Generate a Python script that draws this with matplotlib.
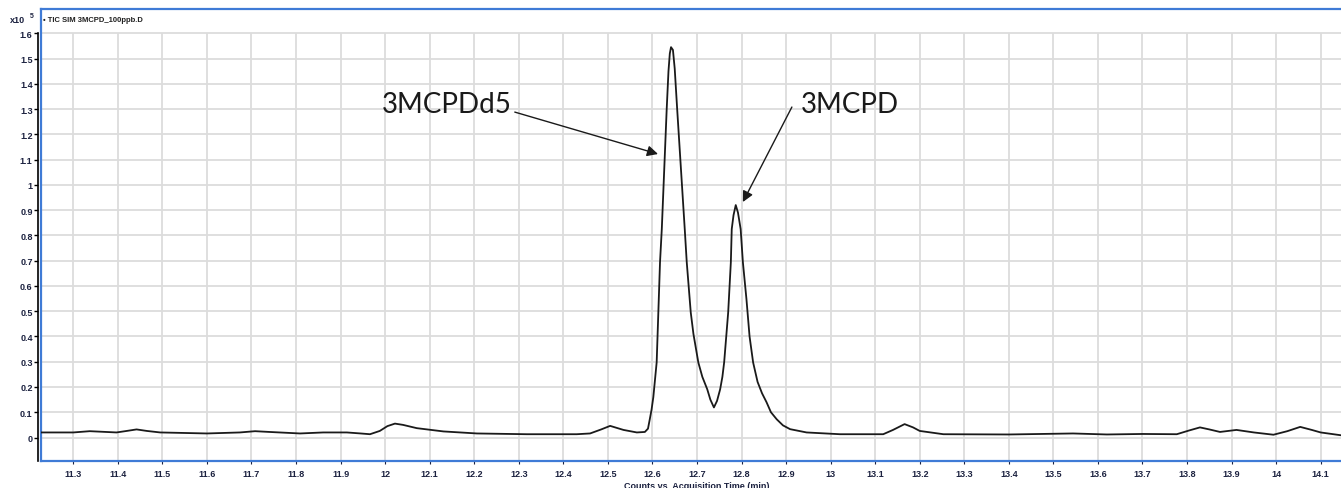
import numpy as np
import matplotlib
matplotlib.use("Agg")
import matplotlib.pyplot as plt
from matplotlib.lines import Line2D

# chromatogram (time in min, counts in x10^5)
time = [11.227, 11.30, 11.337, 11.397, 11.420, 11.442, 11.465, 11.495, 11.60,
        11.674, 11.708, 11.74, 11.809, 11.861, 11.914, 11.945, 11.966, 11.988,
        12.005, 12.022, 12.040, 12.071, 12.131, 12.206, 12.318, 12.43, 12.46,
        12.485, 12.505, 12.535, 12.565, 12.583, 12.590, 12.594, 12.598, 12.602,
        12.6095, 12.617, 12.621, 12.632, 12.636, 12.639, 12.6417, 12.646, 12.650,
        12.6555, 12.6725, 12.677, 12.686, 12.692, 12.703, 12.712, 12.723, 12.730,
        12.738, 12.745, 12.752, 12.757, 12.761, 12.770, 12.776, 12.778, 12.782,
        12.787, 12.792, 12.798, 12.803, 12.811, 12.818, 12.826, 12.836, 12.846,
        12.856, 12.866, 12.879, 12.893, 12.909, 12.946, 13.021, 13.118, 13.140,
        13.166, 13.185, 13.20, 13.253, 13.40, 13.544, 13.62, 13.70, 13.777,
        13.805, 13.829, 13.850, 13.874, 13.911, 13.950, 13.994, 14.025, 14.054,
        14.080, 14.10, 14.145]
counts = [0.020, 0.020, 0.025, 0.020, 0.026, 0.032, 0.026, 0.020, 0.016,
          0.020, 0.025, 0.022, 0.016, 0.020, 0.020, 0.016, 0.013, 0.026,
          0.045, 0.055, 0.050, 0.037, 0.024, 0.016, 0.013, 0.013, 0.016,
          0.032, 0.046, 0.030, 0.020, 0.022, 0.035, 0.072, 0.110, 0.160,
          0.298, 0.694, 0.825, 1.30, 1.45, 1.52, 1.545, 1.534, 1.46,
          1.30, 0.825, 0.694, 0.495, 0.41, 0.297, 0.24, 0.191, 0.15,
          0.119, 0.145, 0.191, 0.24, 0.298, 0.495, 0.694, 0.825, 0.88,
          0.920, 0.89, 0.825, 0.694, 0.548, 0.40, 0.297, 0.220, 0.175,
          0.140, 0.100, 0.072, 0.048, 0.033, 0.020, 0.013, 0.013, 0.030,
          0.053, 0.040, 0.026, 0.013, 0.012, 0.016, 0.012, 0.014, 0.013,
          0.028, 0.040, 0.032, 0.022, 0.030, 0.020, 0.011, 0.025, 0.042,
          0.030, 0.020, 0.009]

xticks = [11.3, 11.4, 11.5, 11.6, 11.7, 11.8, 11.9, 12.0, 12.1, 12.2, 12.3, 12.4,
          12.5, 12.6, 12.7, 12.8, 12.9, 13.0, 13.1, 13.2, 13.3, 13.4, 13.5, 13.6,
          13.7, 13.8, 13.9, 14.0, 14.1]
xlabels = ["11.3", "11.4", "11.5", "11.6", "11.7", "11.8", "11.9", "12", "12.1",
           "12.2", "12.3", "12.4", "12.5", "12.6", "12.7", "12.8", "12.9", "13",
           "13.1", "13.2", "13.3", "13.4", "13.5", "13.6", "13.7", "13.8", "13.9",
           "14", "14.1"]
yticks = [0, 0.1, 0.2, 0.3, 0.4, 0.5, 0.6, 0.7, 0.8, 0.9, 1.0, 1.1, 1.2, 1.3,
          1.4, 1.5, 1.6]
ylabels = ["0", "0.1", "0.2", "0.3", "0.4", "0.5", "0.6", "0.7", "0.8", "0.9",
           "1", "1.1", "1.2", "1.3", "1.4", "1.5", "1.6"]

peak_names = ["3MCPDd5", "3MCPD"]
peak_tips = [(12.6125, 1.122), (12.803, 0.932)]
label_pos = [(12.139, 1.32), (13.043, 1.32)]
arrow_start = [(12.291, 1.288), (12.913, 1.308)]

W, H = 1341, 489
fig = plt.figure(figsize=(W / 100, H / 100), dpi=100)
ax = fig.add_axes([41 / W, 1 - 462 / H, 1 - 41 / W, (462 - 9.5) / H])

x0, x1 = 11.2275, 14.1456
y0, y1 = -0.093, 1.698
ax.set_xlim(x0, x1)
ax.set_ylim(y0, y1)

grid_c = "#dcdcdc"
ax.vlines(xticks, y0, 1.6, color=grid_c, lw=1.3, zorder=0)
ax.hlines(yticks, x0, x1, color=grid_c, lw=1.3, zorder=0)

ax.plot(time, counts, color="#1a1a1a", lw=1.3, zorder=3)

blue = "#3f7bd6"
for s in ["top", "bottom"]:
    ax.spines[s].set_color(blue)
    ax.spines[s].set_linewidth(1.6)
ax.spines["right"].set_visible(False)
ax.spines["left"].set_color("black")
ax.spines["left"].set_linewidth(1.2)
ax.spines["left"].set_position(("outward", 2))
ax.spines["left"].set_bounds(y0, 1.6)
ax.add_line(Line2D([0, 0], [0, 1], transform=ax.transAxes, color=blue,
                   lw=1.6, clip_on=False))

tick_c = "#1c2240"
ax.set_xticks(xticks)
ax.set_xticklabels(xlabels)
ax.set_yticks(yticks)
ax.set_yticklabels(ylabels)
ax.tick_params(axis="y", length=3, width=1, color="black", pad=1,
               labelsize=6.5, labelcolor=tick_c)
ax.tick_params(axis="x", length=2, width=0.8, color=tick_c, pad=4,
               labelsize=6.5, labelcolor=tick_c)
for lab in ax.get_xticklabels() + ax.get_yticklabels():
    lab.set_family("Liberation Sans")
    lab.set_fontweight("bold")

fig.text(10 / W, 1 - 23 / H, "x10", fontsize=6.5, color=tick_c,
         family="Liberation Sans", fontweight="bold", va="baseline")
fig.text(30 / W, 1 - 18 / H, "5", fontsize=5, color=tick_c,
         family="Liberation Sans", fontweight="bold", va="baseline")
fig.text(43 / W, 1 - 20 / H, "\u2022 TIC SIM 3MCPD_100ppb.D", fontsize=5.5,
         color="#202020", family="Liberation Sans", fontweight="bold",
         va="center")
fig.text(697 / W, 1 - 487 / H, "Counts vs. Acquisition Time (min)",
         fontsize=6.5, color=tick_c, family="Liberation Sans",
         fontweight="bold", ha="center", va="center")

for name, tip, pos, start in zip(peak_names, peak_tips, label_pos, arrow_start):
    ax.text(pos[0], pos[1], name, fontsize=20, family="Lato", color="#1a1a1a",
            ha="center", va="center", zorder=5)
    ax.annotate("", xy=tip, xytext=start,
                arrowprops=dict(arrowstyle="-|>", color="#1a1a1a", lw=1,
                                mutation_scale=16, shrinkA=0, shrinkB=0),
                zorder=5)

fig.savefig("out.png", dpi=100)
